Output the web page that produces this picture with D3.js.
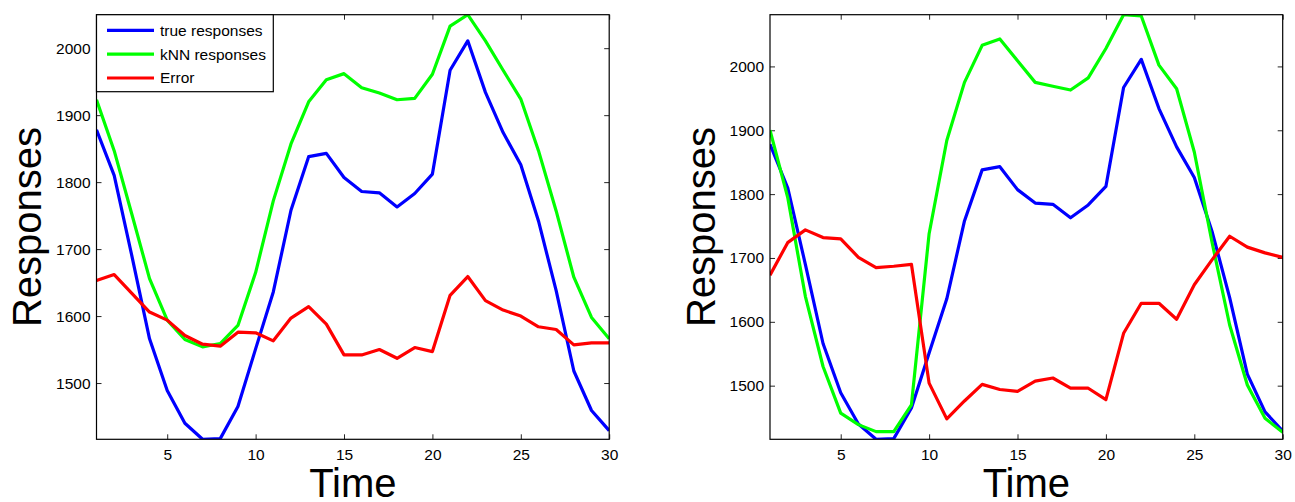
<!DOCTYPE html>
<html>
<head>
<meta charset="utf-8">
<script src="https://cdn.jsdelivr.net/npm/d3@7"></script>
<style>
  body { margin: 0; background: #fff; }
  svg { display: block; font-family: "Liberation Sans", Arial, sans-serif; }
</style>
</head>
<body>
<div id="container"></div>
<script>
// kNN response curves, two panels

const times = [1, 2, 3, 4, 5, 6, 7, 8, 9, 10, 11, 12, 13, 14, 15, 16, 17, 18, 19, 20, 21, 22, 23, 24, 25, 26, 27, 28, 29, 30]

const trueResp = [1878, 1810, 1690, 1566, 1489, 1440, 1416, 1417, 1465, 1551, 1636, 1758, 1838, 1843, 1807,
    1786, 1784, 1763, 1783, 1812, 1967, 2011, 1934, 1874, 1826, 1742, 1638, 1518, 1459, 1429]

const knnLeft = [1923, 1847, 1752, 1656, 1594, 1565, 1554, 1559, 1586, 1665, 1772, 1857, 1920, 1953, 1962,
    1941, 1933, 1923, 1925, 1961, 2033, 2050, 2011, 1967, 1924, 1847, 1757, 1658, 1598, 1566]
const errLeft = [1653, 1662, 1634, 1606, 1594, 1571, 1558, 1555, 1576, 1575, 1563, 1597, 1614, 1588, 1542,
    1542, 1550, 1537, 1553, 1547, 1631, 1659, 1623, 1609, 1600, 1584, 1580, 1557, 1560, 1560]

const knnRight = [1900, 1795, 1640, 1530, 1457, 1439, 1428, 1428, 1470, 1738, 1884, 1975, 2033, 2043, 2009,
    1975, 1969, 1963, 1982, 2028, 2081, 2079, 2002, 1965, 1866, 1725, 1595, 1501, 1449, 1427]
const errRight = [1673, 1724, 1744, 1732, 1730, 1701, 1685, 1687, 1690, 1504, 1448, 1476, 1502, 1494, 1491,
    1507, 1512, 1496, 1496, 1478, 1582, 1629, 1629, 1604, 1658, 1697, 1734, 1717, 1708, 1701]

const xTicks = [5, 10, 15, 20, 25, 30]
const yTicks = [1500, 1600, 1700, 1800, 1900, 2000]
const seriesNames = ["true responses", "kNN responses", "Error"]
const seriesColors = ["#0000ff", "#00ff00", "#ff0000"]

const width = 1295,
    height = 502

const svg = d3.select("#container")
    .append("svg")
    .attr("width", width)
    .attr("height", height)

const panels = [
    { left: 96.5, series: [trueResp, knnLeft, errLeft], legend: true },
    { left: 770, series: [trueResp, knnRight, errRight], legend: false },
]
const plotW = 512.7,
    plotTop = 14.7,
    plotBottom = 439.3

panels.forEach((p, pi) => {
    const all = p.series.flat()
    const x = d3.scaleLinear().domain(d3.extent(times)).range([p.left, p.left + plotW])
    const y = d3.scaleLinear().domain(d3.extent(all)).range([plotBottom, plotTop])

    const g = svg.append("g").attr("class", "panel")

    g.append("clipPath").attr("id", "clip" + pi)
        .append("rect")
        .attr("x", p.left).attr("y", plotTop)
        .attr("width", plotW).attr("height", plotBottom - plotTop)

    // axes, ticks pointing inward on all sides
    const fmt = d3.format("d")
    const axes = [
        { ax: d3.axisBottom(x).tickValues(xTicks).tickPadding(10), t: `translate(0,${plotBottom})`, lab: true },
        { ax: d3.axisTop(x).tickValues(xTicks), t: `translate(0,${plotTop})`, lab: false },
        { ax: d3.axisLeft(y).tickValues(yTicks).tickPadding(6), t: `translate(${p.left},0)`, lab: true },
        { ax: d3.axisRight(y).tickValues(yTicks), t: `translate(${p.left + plotW},0)`, lab: false },
    ]
    axes.forEach(a => {
        const ag = g.append("g")
            .attr("transform", a.t)
            .call(a.ax.tickFormat(fmt).tickSizeInner(-5).tickSizeOuter(0))
        ag.select(".domain").remove()
        ag.selectAll("line").attr("stroke", "#262626")
        ag.selectAll("text")
            .attr("font-size", "15.5px")
            .attr("font-family", "Liberation Sans, Arial, sans-serif")
            .attr("fill", "#000")
        if (!a.lab) ag.selectAll("text").remove()
    })

    const line = d3.line()
        .x((d, i) => x(times[i]))
        .y(d => y(d))

    g.append("g").attr("clip-path", `url(#clip${pi})`)
        .selectAll("path")
        .data(p.series)
        .enter()
        .append("path")
        .attr("d", d => line(d))
        .attr("fill", "none")
        .attr("stroke", (d, i) => seriesColors[i])
        .attr("stroke-width", 3.2)
        .attr("stroke-linejoin", "round")

    g.append("rect")
        .attr("x", p.left).attr("y", plotTop)
        .attr("width", plotW).attr("height", plotBottom - plotTop)
        .attr("fill", "none")
        .attr("stroke", "#000")
        .attr("stroke-width", 1.2)

    g.append("text")
        .attr("transform", `translate(${p.left - 55.5},${(plotTop + plotBottom) / 2}) rotate(-90)`)
        .attr("text-anchor", "middle")
        .attr("font-size", "40px")
        .text("Responses")

    g.append("text")
        .attr("x", p.left + plotW / 2)
        .attr("y", 497)
        .attr("text-anchor", "middle")
        .attr("font-size", "40px")
        .text("Time")

    if (p.legend) {
        const lg = g.append("g").attr("id", "legend")
        lg.append("rect")
            .attr("x", p.left).attr("y", plotTop)
            .attr("width", 176.8).attr("height", 77)
            .attr("fill", "#fff")
            .attr("stroke", "#000")
            .attr("stroke-width", 1.2)
        const rows = lg.selectAll("g.row")
            .data(seriesNames)
            .enter()
            .append("g")
            .attr("class", "row")
            .attr("transform", (d, i) => `translate(${p.left},${plotTop + 15.6 + i * 23.85})`)
        rows.append("line")
            .attr("x1", 10.5).attr("x2", 57.5)
            .attr("stroke", (d, i) => seriesColors[i])
            .attr("stroke-width", 3.2)
        rows.append("text")
            .attr("x", 63.5)
            .attr("dy", "0.35em")
            .attr("font-size", "15.5px")
            .text(d => d)
    }
})
</script>
</body>
</html>
